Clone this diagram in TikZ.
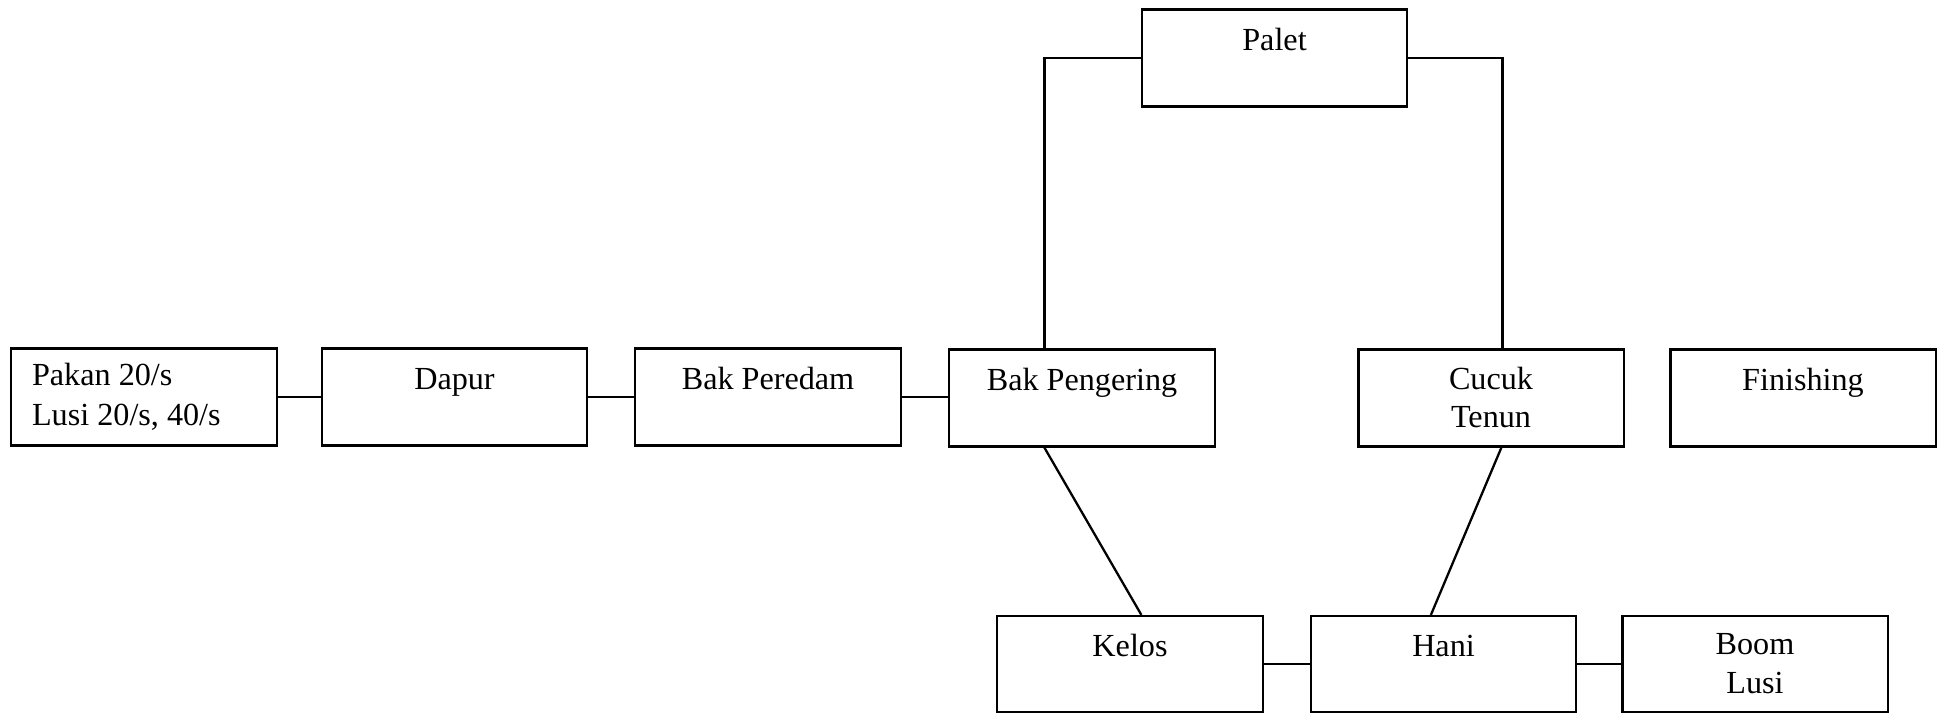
\documentclass[tikz,border=0pt]{standalone}
\usepackage{fontspec}
\setmainfont{Liberation Serif}
\usetikzlibrary{calc}
\begin{document}
\begin{tikzpicture}[x=0.01cm,y=-0.01cm,
  box/.style={draw,line width=0.6pt,minimum width=2.65cm,minimum height=0.97cm,inner sep=0pt},
  lbl/.style={inner sep=0pt,font=\fontsize{9.15pt}{11pt}\selectfont},
  conn/.style={line width=0.65pt}]
\fill[white] (0,0) rectangle (1940,713);
\useasboundingbox (0,0) rectangle (1940,713);
% boxes
\node[box] (pakan) at (144,397) {};
\node[box] (dapur) at (454.5,397) {};
\node[box] (peredam) at (768,397) {};
\node[box] (pengering) at (1082,398) {};
\node[box] (cucuk) at (1491,398) {};
\node[box] (finishing) at (1803,398) {};
\node[box] (palet) at (1274.5,58) {};
\node[box,minimum height=0.96cm] (kelos) at (1130,664) {};
\node[box,minimum height=0.96cm] (hani) at (1443.5,664) {};
\node[box,minimum height=0.96cm] (boom) at (1755,664) {};
% labels
\node[lbl,anchor=base west] (pakanA) at ($(pakan.north west)+(21,38)$) {Pakan 20/s};
\node[lbl,anchor=base west] (pakanB) at ($(pakan.north west)+(21,78)$) {Lusi 20/s, 40/s};
\node[lbl,anchor=base] (dapurT) at ($(dapur.north)+(0,42)$) {Dapur};
\node[lbl,anchor=base] (peredamT) at ($(peredam.north)+(0,42)$) {Bak Peredam};
\node[lbl,anchor=base] (pengeringT) at ($(pengering.north)+(0,42)$) {Bak Pengering};
\node[lbl,anchor=base] (cucukA) at ($(cucuk.north)+(0,41)$) {Cucuk};
\node[lbl,anchor=base] (cucukB) at ($(cucuk.north)+(0,79)$) {Tenun};
\node[lbl,anchor=base] (finishingT) at ($(finishing.north)+(0,42)$) {Finishing};
\node[lbl,anchor=base] (paletT) at ($(palet.north)+(0,42)$) {Palet};
\node[lbl,anchor=base] (kelosT) at ($(kelos.north)+(0,42)$) {Kelos};
\node[lbl,anchor=base] (haniT) at ($(hani.north)+(0,42)$) {Hani};
\node[lbl,anchor=base] (boomA) at ($(boom.north)+(0,40)$) {Boom};
\node[lbl,anchor=base] (boomB) at ($(boom.north)+(0,79)$) {Lusi};
% connectors
\draw[conn] (pakan.east) -- (pakan.east -| dapur.west);
\draw[conn] (dapur.east) -- (peredam.west);
\draw[conn] (peredam.east) -- (peredam.east -| pengering.west);
\draw[conn] (palet.west) -| ($(pengering.north west)+(96,0)$);
\draw[conn] (palet.east) -| ($(cucuk.north west)+(145,0)$);
\draw[conn] ($(pengering.south west)+(96,0)$) -- ($(kelos.north west)+(145,0)$);
\draw[conn] ($(cucuk.south west)+(144,0)$) -- ($(hani.north west)+(121,0)$);
\draw[conn] (kelos.east) -- (hani.west);
\draw[conn] (hani.east) -- (boom.west);
\end{tikzpicture}
\end{document}
